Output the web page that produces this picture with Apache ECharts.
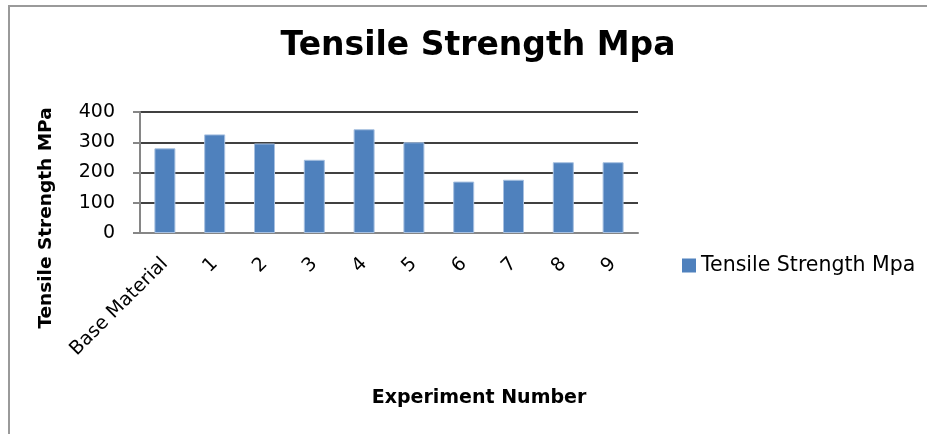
<!DOCTYPE html>
<html>
<head>
<meta charset="utf-8">
<script src="https://cdn.jsdelivr.net/npm/echarts@6/dist/echarts.min.js"></script>
<style>
html,body{margin:0;padding:0;background:#fff;}
#c{width:927px;height:434px;}
</style>
</head>
<body>
<div id="c"></div>
<script>
var categories = ['Base Material','1','2','3','4','5','6','7','8','9'];
var strengthValues = [280, 326, 296, 242, 343, 300, 170, 176, 234, 234];
var yTicks = [0, 100, 200, 300, 400];
var seriesName = 'Tensile Strength Mpa';
var chartTitle = 'Tensile Strength Mpa';
var yAxisTitle = 'Tensile Strength MPa';
var xAxisTitle = 'Experiment Number';

var FONT = '"DejaVu Sans", "Noto Sans", sans-serif';
var chart = echarts.init(document.getElementById('c'), null, {renderer:'canvas'});
chart.setOption({
  animation: false,
  backgroundColor: '#fff',
  title: {
    text: chartTitle,
    left: 473, top: 25, textAlign: 'center',
    textStyle: {fontFamily: FONT, fontWeight: 'bold', fontSize: 33, color: '#000'}
  },
  legend: {
    data: [seriesName],
    left: 677, top: 250,
    icon: 'rect', itemWidth: 14, itemHeight: 14, itemGap: 6,
    itemStyle: {borderWidth: 0},
    textStyle: {fontFamily: FONT, fontSize: 20.5, color: '#000'}
  },
  grid: {left: 140, right: 289, top: 112, bottom: 201, containLabel: false},
  xAxis: {
    type: 'category',
    data: categories,
    axisLine: {lineStyle: {color: '#868686', width: 2}},
    axisTick: {show: false},
    axisLabel: {rotate: 45, margin: 28, fontFamily: FONT, fontSize: 19, color: '#000', interval: 0}
  },
  yAxis: {
    type: 'value',
    min: yTicks[0], max: yTicks[yTicks.length-1], interval: 100,
    axisLine: {show: true, lineStyle: {color: '#868686', width: 2}},
    axisTick: {show: true, length: 7, lineStyle: {color: '#868686', width: 2}},
    splitLine: {lineStyle: {color: '#000', width: 1.5}},
    axisLabel: {margin: 25, fontFamily: FONT, fontSize: 19, color: '#000'}
  },
  graphic: [
    {type: 'line', shape: {x1: 9, y1: 6, x2: 9, y2: 434}, style: {stroke: '#9a9a9a', lineWidth: 2}},
    {type: 'line', shape: {x1: 8, y1: 6, x2: 927, y2: 6}, style: {stroke: '#9a9a9a', lineWidth: 2}},
    {type: 'text', x: 46, y: 218, rotation: Math.PI/2,
     style: {text: yAxisTitle, font: 'bold 18.5px ' + FONT, fill: '#000', textAlign: 'center', textVerticalAlign: 'middle'}},
    {type: 'text', x: 479, y: 398,
     style: {text: xAxisTitle, font: 'bold 19px ' + FONT, fill: '#000', textAlign: 'center', textVerticalAlign: 'middle'}}
  ],
  series: [{
    name: seriesName,
    type: 'bar',
    data: strengthValues,
    barWidth: 21,
    itemStyle: {color: '#4F81BD', borderColor: '#A7C0E0', borderWidth: 1}
  }]
});
</script>
</body>
</html>
